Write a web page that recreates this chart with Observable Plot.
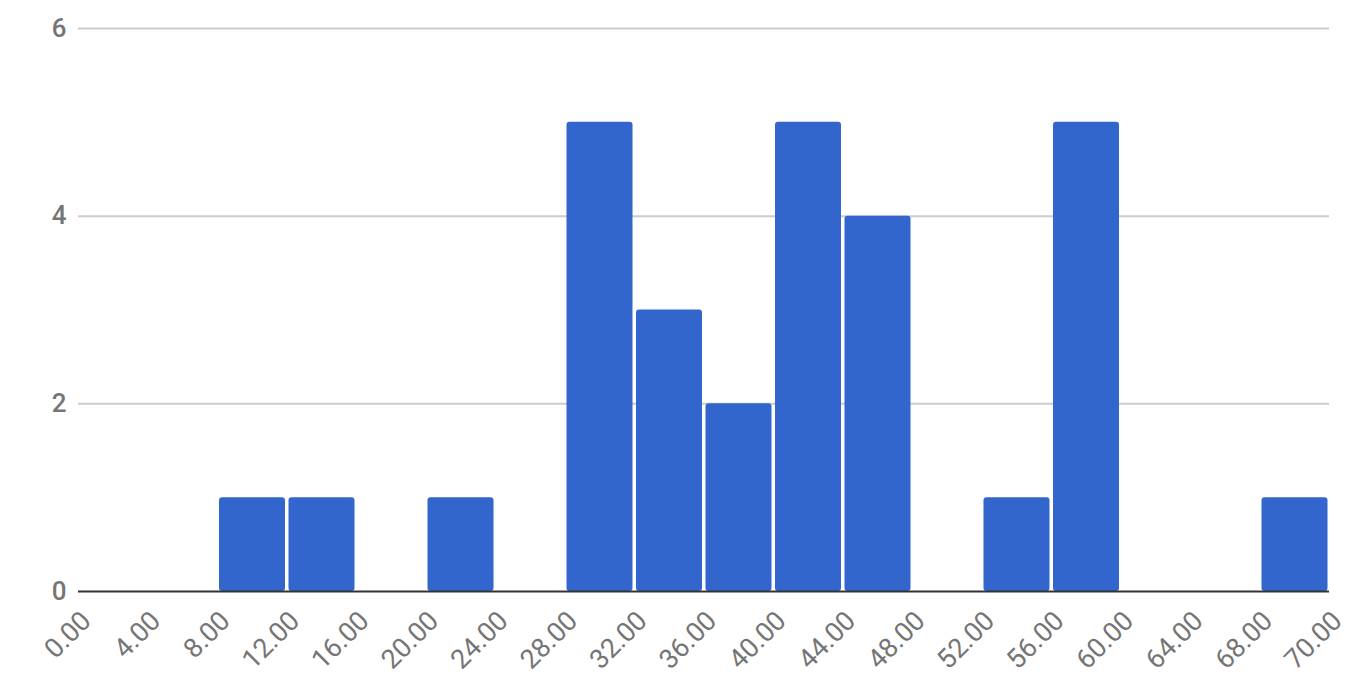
<!DOCTYPE html>
<html>
<head>
<meta charset="utf-8">
<script src="https://cdn.jsdelivr.net/npm/d3@7"></script>
<script src="https://cdn.jsdelivr.net/npm/@observablehq/plot@0.6"></script>
<style>
  html, body { margin: 0; padding: 0; background: #fff; }
  #chart { width: 1350px; height: 692px; }
</style>
</head>
<body>
<div id="chart"></div>
<script>
const tickLabels = ["0.00","4.00","8.00","12.00","16.00","20.00","24.00","28.00","32.00","36.00","40.00","44.00","48.00","52.00","56.00","60.00","64.00","68.00","70.00"];
const counts = [0,0,1,1,0,1,0,5,3,2,5,4,0,1,5,0,0,1];
const yTicks = [0,2,4,6];

const bins = counts.map((c, i) => ({i, count: c}));

const chart = Plot.plot({
  width: 1350,
  height: 692,
  marginLeft: 78,
  marginRight: 21,
  marginTop: 28,
  marginBottom: 101,
  style: {fontFamily: "Roboto, 'Noto Sans', sans-serif", fontSize: "24px", background: "#fff"},
  x: {domain: [0, counts.length], axis: null},
  y: {domain: [0, 6], axis: null},
  marks: [
    Plot.ruleY(yTicks.filter(d => d !== 0), {stroke: "#cccccc", strokeWidth: 2}),
    Plot.rectY(bins.filter(d => d.count > 0), {
      x1: d => d.i, x2: d => d.i + 1, y1: 0, y2: "count",
      fill: "#3366cc", insetLeft: 2, insetRight: 1.5, rx: 3
    }),
    Plot.ruleY([0], {stroke: "#333333", strokeWidth: 2}),
    Plot.axisY(yTicks, {tickSize: 0, tickPadding: 12, fill: "#757575", fontSize: 26, fontWeight: 500, label: null, tickFormat: d => String(d)}),
    Plot.axisX(d3.range(tickLabels.length), {
      tickSize: 0, tickPadding: 25, dx: 8, tickRotate: -45, label: null,
      tickFormat: i => tickLabels[i], fill: "#757575", fontSize: 27
    })
  ]
});
document.getElementById("chart").appendChild(chart);
</script>
</body>
</html>
